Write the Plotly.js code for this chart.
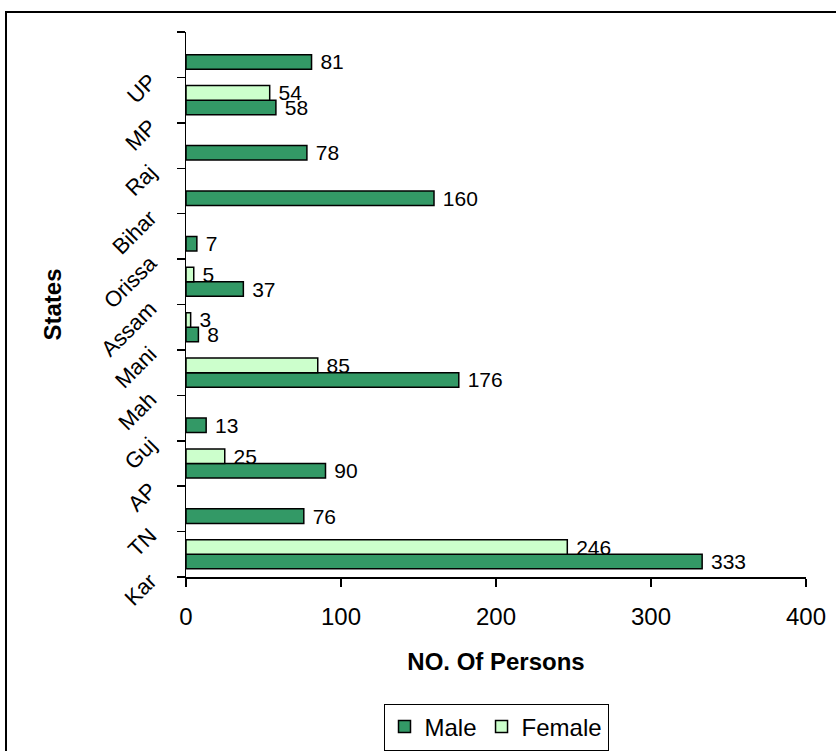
<!DOCTYPE html>
<html>
<head>
<meta charset="utf-8">
<script src="https://cdn.plot.ly/plotly-3.0.1.min.js"></script>
<style>
  html, body { margin: 0; padding: 0; background: #fff; }
  #chart { width: 836px; height: 751px; }
</style>
</head>
<body>
<div id="chart"></div>
<script>
// States, listed bottom to top
const states = ['Kar', 'TN', 'AP', 'Guj', 'Mah', 'Mani', 'Assam', 'Orissa', 'Bihar', 'Raj', 'MP', 'UP'];
const male   = [333, 76, 90, 13, 176, 8, 37, 7, 160, 78, 58, 81];
const female = [246, null, 25, null, 85, 3, 5, null, null, null, 54, null];
const xTicks = [0, 100, 200, 300, 400];

const FONT = 'Liberation Sans, Arial, sans-serif';

// plot area in pixels
const W = 836, H = 751;
const L = 186, R = 30, T = 32, B = 174;
const pw = W - L - R, ph = H - T - B;
const px = v => (v - L) / pw;
const py = v => (H - B - v) / ph;

// value labels, with a small gap after the bar end
const labels = arr => arr.map(v => (v === null ? '' : '\u00a0' + v));

const common = {
  type: 'bar',
  orientation: 'h',
  y: states,
  textposition: 'outside',
  constraintext: 'none',
  cliponaxis: false,
  textfont: { family: FONT, size: 21, color: '#000' },
  hoverinfo: 'skip'
};

const traces = [
  Object.assign({}, common, {
    name: 'Male',
    x: male,
    text: labels(male),
    marker: { color: '#339966', line: { color: '#000', width: 1.5 } }
  }),
  Object.assign({}, common, {
    name: 'Female',
    x: female,
    text: labels(female),
    marker: { color: '#ccffcc', line: { color: '#000', width: 1.5 } }
  })
];

const layout = {
  width: W, height: H,
  margin: { l: L, r: R, t: T, b: B, pad: 0, autoexpand: false },
  paper_bgcolor: '#fff',
  plot_bgcolor: '#fff',
  font: { family: FONT, size: 22, color: '#000' },
  barmode: 'group',
  bargap: 0.36,
  bargroupgap: 0,
  showlegend: true,
  legend: {
    orientation: 'h',
    x: 0.5, xanchor: 'center',
    y: py(727), yanchor: 'middle',
    bordercolor: '#000', borderwidth: 1,
    font: { family: FONT, size: 24 },
    itemwidth: 30,
    traceorder: 'normal'
  },
  xaxis: {
    range: [0, 400],
    tickvals: xTicks,
    ticktext: xTicks.map(String),
    showgrid: false, zeroline: false,
    showline: true, linecolor: '#000', linewidth: 1.5,
    ticks: 'outside', ticklen: 8, tickwidth: 1.5, tickcolor: '#000',
    ticklabelstandoff: 10,
    tickfont: { family: FONT, size: 24 },
    title: { text: '<b>NO. Of Persons</b>', font: { family: FONT, size: 24 }, standoff: 24 },
    automargin: false,
    fixedrange: true
  },
  yaxis: {
    type: 'category',
    categoryorder: 'array',
    categoryarray: states,
    range: [-0.5, states.length - 0.5],
    showgrid: false, zeroline: false,
    showline: true, linecolor: '#000', linewidth: 1.5,
    ticks: 'outside', ticklen: 8, tickwidth: 1.5, tickcolor: '#000',
    tickson: 'boundaries',
    tickangle: -45,
    ticklabelshift: 24,
    ticklabelstandoff: 30,
    tickfont: { family: FONT, size: 22 },
    title: { text: '<b>States</b>', font: { family: FONT, size: 24 }, standoff: 28 },
    automargin: false,
    fixedrange: true
  },
  shapes: [
    {
      type: 'rect', xref: 'paper', yref: 'paper',
      x0: px(6), x1: px(900), y0: py(12), y1: py(820),
      line: { color: '#000', width: 2 }, fillcolor: 'rgba(0,0,0,0)'
    }
  ]
};

Plotly.newPlot('chart', traces, layout, { displayModeBar: false, staticPlot: true });
</script>
</body>
</html>
